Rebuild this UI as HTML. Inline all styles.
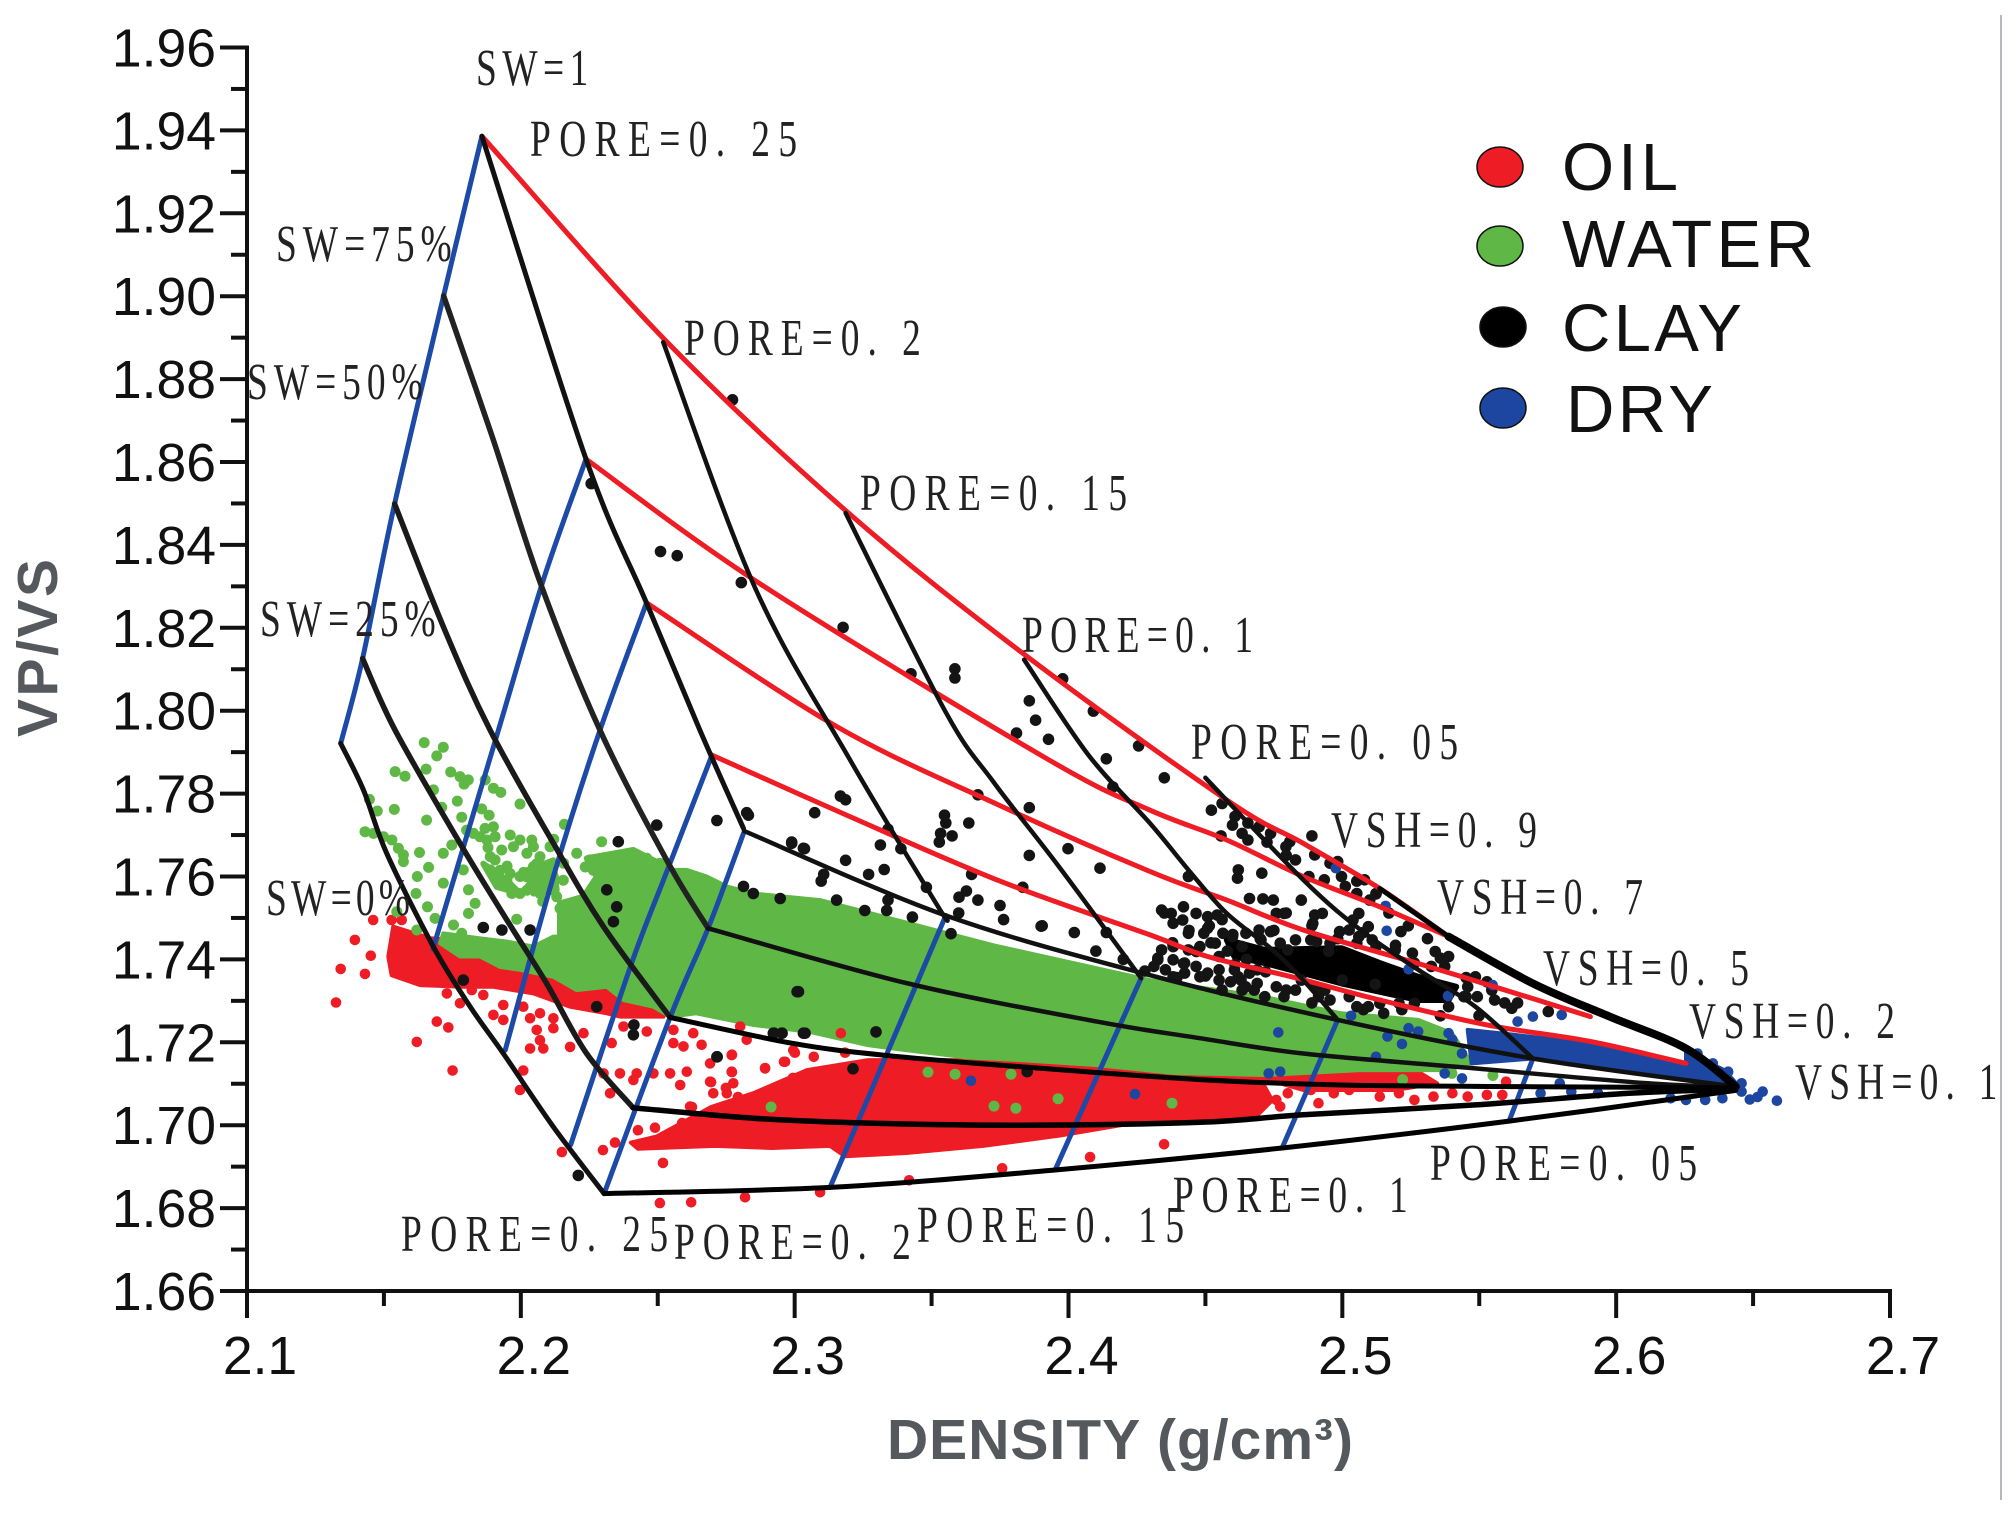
<!DOCTYPE html>
<html lang="en">
<head>
<meta charset="utf-8">
<title>VP/VS vs Density rock-physics template</title>
<style>
html,body{margin:0;padding:0;background:#fff;width:2016px;height:1521px;overflow:hidden}
svg{display:block}
.tick{font-family:"Liberation Sans",Arial,sans-serif;font-size:53.5px;fill:#111}
.lab{font-family:"Liberation Serif","Noto Serif CJK SC",serif;font-size:52px;fill:#222}
.leg{font-family:"Liberation Sans",Arial,sans-serif;font-size:67px;fill:#111}
.axt{font-family:"Liberation Sans",Arial,sans-serif;font-weight:bold;fill:#55585c}
</style>
</head>
<body>
<svg id="chart" xmlns="http://www.w3.org/2000/svg" width="2016" height="1521" viewBox="0 0 2016 1521">
  <rect width="2016" height="1521" fill="#fff"/>
  <line x1="2001" y1="15" x2="2001" y2="1500" stroke="#9aa0a6" stroke-width="1.5"/>
  <g id="bands"></g>
  <g id="points"></g>
  <g id="lines"></g>
  <g id="axes"></g>

  <text class="axt" font-size="57" transform="translate(57,737) rotate(-90)" textLength="178">VP/VS</text>
  <text class="axt" font-size="57" x="887" y="1459" textLength="466">DENSITY (g/cm³)</text>

  <g>
    <text class="lab" transform="translate(476,85) scale(.72,1)" textLength="156">SW=1</text>
    <text class="lab" transform="translate(530,156) scale(.72,1)" textLength="371">PORE=0. 25</text>
    <text class="lab" transform="translate(276,261) scale(.72,1)" textLength="244">SW=75%</text>
    <text class="lab" transform="translate(684,355) scale(.72,1)" textLength="329">PORE=0. 2</text>
    <text class="lab" transform="translate(247,399) scale(.72,1)" textLength="244">SW=50%</text>
    <text class="lab" transform="translate(860,510) scale(.72,1)" textLength="371">PORE=0. 15</text>
    <text class="lab" transform="translate(1022,652) scale(.72,1)" textLength="321">PORE=0. 1</text>
    <text class="lab" transform="translate(260,636) scale(.72,1)" textLength="244">SW=25%</text>
    <text class="lab" transform="translate(1191,759) scale(.72,1)" textLength="371">PORE=0. 05</text>
    <text class="lab" transform="translate(1331,847) scale(.72,1)" textLength="286">VSH=0. 9</text>
    <text class="lab" transform="translate(1437,914) scale(.72,1)" textLength="286">VSH=0. 7</text>
    <text class="lab" transform="translate(1543,985) scale(.72,1)" textLength="286">VSH=0. 5</text>
    <text class="lab" transform="translate(1689,1038) scale(.72,1)" textLength="286">VSH=0. 2</text>
    <text class="lab" transform="translate(1795,1099) scale(.72,1)" textLength="281">VSH=0. 1</text>
    <text class="lab" transform="translate(266,915) scale(.72,1)" textLength="200">SW=0%</text>
    <text class="lab" transform="translate(401,1251) scale(.72,1)" textLength="371">PORE=0. 25</text>
    <text class="lab" transform="translate(674,1259) scale(.72,1)" textLength="329">PORE=0. 2</text>
    <text class="lab" transform="translate(917,1242) scale(.72,1)" textLength="371">PORE=0. 15</text>
    <text class="lab" transform="translate(1173,1212) scale(.72,1)" textLength="326">PORE=0. 1</text>
    <text class="lab" transform="translate(1430,1180) scale(.72,1)" textLength="371">PORE=0. 05</text>
  </g>

  <g>
    <g>
      <ellipse cx="1500" cy="167" rx="23" ry="20" fill="#ee1c25" stroke="#111" stroke-width="1.5"/>
      <text class="leg" x="1562" y="190" textLength="116">OIL</text>
    </g>
    <g>
      <ellipse cx="1500" cy="246" rx="23" ry="20" fill="#5fb846" stroke="#111" stroke-width="1.5"/>
      <text class="leg" x="1562" y="267" textLength="252">WATER</text>
    </g>
    <g>
      <ellipse cx="1503" cy="327" rx="23" ry="20" fill="#000" stroke="#111" stroke-width="1.5"/>
      <text class="leg" x="1562" y="351" textLength="180">CLAY</text>
    </g>
    <g>
      <ellipse cx="1503" cy="408" rx="23" ry="20" fill="#1c46a0" stroke="#111" stroke-width="1.5"/>
      <text class="leg" x="1566" y="432" textLength="147">DRY</text>
    </g>
  </g>
</svg>

<script>
// ---- tick data ----
const xMajorTicks = [2.1,2.2,2.3,2.4,2.5,2.6,2.7];
const xMinorTicks = [2.15,2.25,2.35,2.45,2.55,2.65];
const yMajorTicks = [1.66,1.68,1.70,1.72,1.74,1.76,1.78,1.80,1.82,1.84,1.86,1.88,1.90,1.92,1.94,1.96];
const yMinorTicks = [1.67,1.69,1.71,1.73,1.75,1.77,1.79,1.81,1.83,1.85,1.87,1.89,1.91,1.93,1.95];

// ---- red iso-lines (density, vp/vs) ----
const redLine1 = [[2.1858,1.9386],[2.2520,1.8899],[2.3186,1.8483],[2.3838,1.8136],[2.4577,1.7785],[2.4857,1.7680],[2.5137,1.7571],[2.5388,1.7455]];
const redLine2 = [[2.2238,1.8607],[2.2881,1.8303],[2.3929,1.7881],[2.4298,1.7760],[2.4578,1.7688],[2.4857,1.7600],[2.5137,1.7527],[2.5388,1.7455]];
const redLine3 = [[2.2459,1.8260],[2.3153,1.7962],[2.3750,1.7771],[2.4298,1.7612],[2.4578,1.7543],[2.4857,1.7471],[2.5277,1.7390],[2.5556,1.7334],[2.5906,1.7262]];
const redLine4 = [[2.2698,1.7893],[2.3200,1.7745],[2.3750,1.7589],[2.4298,1.7459],[2.4508,1.7407],[2.4815,1.7358],[2.5137,1.7302],[2.5528,1.7242],[2.5906,1.7202],[2.6255,1.7149]];

// ---- black saturation curves ----
const sw100Down = [[2.1858,1.9386],[2.2238,1.8607],[2.2459,1.8260],[2.2654,1.7953],[2.2813,1.7716]];
const sw75Down = [[2.1718,1.9001],[2.1896,1.8660],[2.2074,1.8303],[2.2289,1.7953],[2.2533,1.7639],[2.2684,1.7475]];
const sw50Down = [[2.1539,1.8499],[2.1722,1.8195],[2.1888,1.7953],[2.2119,1.7680],[2.2302,1.7479],[2.2545,1.7260]];
const sw25Down = [[2.1422,1.8126],[2.1541,1.7953],[2.1778,1.7680],[2.1949,1.7495],[2.2094,1.7342],[2.2240,1.7173],[2.2410,1.7042]];
const sw0Down = [[2.1342,1.7921],[2.1425,1.7809],[2.1510,1.7656],[2.1681,1.7430],[2.1815,1.7286],[2.1936,1.7173],[2.2119,1.6996],[2.2304,1.6835]];
const sw100Across = [[2.2815,1.7710],[2.3552,1.7506],[2.4298,1.7362],[2.4983,1.7254],[2.5696,1.7161],[2.6437,1.7093]];
const sw75Across = [[2.2684,1.7475],[2.3407,1.7343],[2.4104,1.7250],[2.4480,1.7210],[2.4857,1.7173],[2.5416,1.7141],[2.6115,1.7101],[2.6437,1.7093]];
const sw50Across = [[2.2545,1.7260],[2.2987,1.7198],[2.3323,1.7169],[2.3827,1.7141],[2.4480,1.7110],[2.4997,1.7097],[2.5696,1.7093],[2.6437,1.7090]];
const sw25Across = [[2.2410,1.7042],[2.2848,1.7017],[2.3268,1.7005],[2.3827,1.7000],[2.4480,1.7007],[2.4857,1.7025],[2.5486,1.7049],[2.6046,1.7077],[2.6437,1.7087]];
const sw0Across = [[2.2304,1.6835],[2.3129,1.6850],[2.3951,1.6892],[2.4780,1.6945],[2.5609,1.7010],[2.6437,1.7084]];

// ---- black porosity curves ----
const pore20Curve = [[2.2520,1.8889],[2.2853,1.8300],[2.3200,1.7884],[2.3524,1.7527],[2.3552,1.7506]];
const pore15Curve = [[2.3186,1.8477],[2.3547,1.8002],[2.3726,1.7828],[2.3965,1.7624],[2.4265,1.7355]];
const pore10Curve = [[2.3838,1.8123],[2.4073,1.7893],[2.4298,1.7728],[2.4438,1.7616],[2.4578,1.7511],[2.4745,1.7423],[2.4857,1.7350],[2.4983,1.7254]];
const pore05Curve = [[2.4500,1.7838],[2.4857,1.7592],[2.5067,1.7471],[2.5277,1.7375],[2.5486,1.7286],[2.5696,1.7161]];
const clayEnvelopeThin = [[2.5137,1.7571],[2.5388,1.7455]];
const clayEnvelope = [[2.5388,1.7455],[2.5696,1.7342],[2.5976,1.7262],[2.6255,1.7185],[2.6437,1.7093]];

// ---- blue lines ----
const blueLine1 = [[2.1342,1.7921],[2.1422,1.8126],[2.1539,1.8499],[2.1718,1.9001],[2.1858,1.9386]];
const blueLine2 = [[2.1679,1.7425],[2.1918,1.7953],[2.2084,1.8319],[2.2238,1.8607]];
const blueLine3 = [[2.1943,1.7181],[2.2121,1.7605],[2.2289,1.7953],[2.2459,1.8260]];
const blueLine4 = [[2.2182,1.6953],[2.2403,1.7388],[2.2529,1.7605],[2.2698,1.7893]];
const blueLine5 = [[2.2304,1.6835],[2.2545,1.7260],[2.2684,1.7475],[2.2813,1.7704]];
const blueLine6 = [[2.3129,1.6850],[2.3552,1.7506]];
const blueLine7 = [[2.3951,1.6892],[2.4265,1.7355]];
const blueLine8 = [[2.4780,1.6945],[2.4983,1.7254]];
const blueLine9 = [[2.5609,1.7010],[2.5696,1.7161]];

// ---- outlines of saturated point clouds ----
const oilBandMain = [[2.2695,1.7044],[2.2848,1.7077],[2.3045,1.7133],[2.3268,1.7157],[2.3688,1.7157],[2.4298,1.7141],[2.4689,1.7126],[2.4744,1.7060],[2.4689,1.7024],[2.4298,1.7012],[2.3966,1.6975],[2.3688,1.6950],[2.3407,1.6933],[2.3184,1.6925],[2.3129,1.6950],[2.2917,1.6945],[2.2709,1.6950],[2.2428,1.6943],[2.2402,1.6958],[2.2497,1.6973]];
const oilBandRight = [[2.4689,1.7117],[2.4857,1.7129],[2.5109,1.7141],[2.5277,1.7129],[2.5346,1.7101],[2.5193,1.7085],[2.4857,1.7085]];
const oilBandLeft = [[2.1534,1.7479],[2.1669,1.7451],[2.1912,1.7439],[2.2192,1.7374],[2.2350,1.7334],[2.2533,1.7286],[2.2521,1.7262],[2.2362,1.7262],[2.2314,1.7270],[2.2180,1.7286],[2.2046,1.7318],[2.1900,1.7334],[2.1790,1.7334],[2.1632,1.7338],[2.1528,1.7362],[2.1516,1.7407]];
const waterBand = [[2.1717,1.7463],[2.1851,1.7451],[2.1949,1.7443],[2.2046,1.7431],[2.2119,1.7455],[2.2241,1.7455],[2.2326,1.7451],[2.2423,1.7487],[2.2496,1.7567],[2.2533,1.7616],[2.2606,1.7616],[2.2679,1.7600],[2.2752,1.7576],[2.2849,1.7559],[2.3093,1.7543],[2.3726,1.7434],[2.4298,1.7350],[2.4718,1.7309],[2.4996,1.7270],[2.5277,1.7254],[2.5401,1.7222],[2.5470,1.7150],[2.5386,1.7133],[2.5065,1.7133],[2.4718,1.7121],[2.4386,1.7126],[2.4104,1.7145],[2.3827,1.7157],[2.3619,1.7164],[2.3407,1.7181],[2.3268,1.7193],[2.3056,1.7225],[2.2848,1.7242],[2.2640,1.7270],[2.2545,1.7262],[2.2484,1.7286],[2.2375,1.7302],[2.2314,1.7334],[2.2204,1.7326],[2.2119,1.7358],[2.1997,1.7375],[2.1924,1.7382],[2.1851,1.7407],[2.1778,1.7407],[2.1705,1.7439]];
const waterBandUpper = [[2.2241,1.7644],[2.2411,1.7664],[2.2533,1.7623],[2.2484,1.7551],[2.2423,1.7487],[2.2362,1.7455],[2.2143,1.7455],[2.2143,1.7535],[2.2229,1.7551],[2.2277,1.7599]];
const waterPatchRing = [[2.2022,1.7615],[2.2119,1.7639],[2.2131,1.7567],[2.2046,1.7559]];
const waterPatchWest = [[2.1863,1.7631],[2.1949,1.7591],[2.1997,1.7559],[2.1912,1.7575]];
const clayBlob = [[2.4578,1.7447],[2.4717,1.7423],[2.4997,1.7427],[2.5137,1.7391],[2.5277,1.7358],[2.5416,1.7334],[2.5388,1.7302],[2.5277,1.7302],[2.5165,1.7318],[2.4997,1.7342],[2.4857,1.7367],[2.4717,1.7391],[2.4606,1.7407]];
const dryBand = [[2.5458,1.7230],[2.5626,1.7218],[2.5836,1.7202],[2.6046,1.7177],[2.6255,1.7149],[2.6255,1.7177],[2.6395,1.7133],[2.6444,1.7097],[2.6367,1.7105],[2.6185,1.7121],[2.5976,1.7141],[2.5696,1.7161],[2.5472,1.7149]];

// ---- individually visible points ----
const oilPoints = [[2.1461,1.7495],[2.1528,1.7495],[2.1565,1.7495],[2.1394,1.7447],[2.1452,1.7409],[2.1342,1.7377],[2.1431,1.7365],[2.1325,1.7296],[2.1693,1.7250],[2.1735,1.7236],[2.1620,1.7201],[2.1751,1.7132],[2.2009,1.7132],[2.1997,1.7085],[2.1730,1.7318],[2.1778,1.7294],[2.1863,1.7314],[2.1821,1.7326],[2.1936,1.7290],[2.1900,1.7266],[2.1936,1.7254],[2.2009,1.7286],[2.2034,1.7258],[2.2070,1.7270],[2.2119,1.7258],[2.2119,1.7234],[2.2058,1.7230],[2.2070,1.7205],[2.2034,1.7185],[2.2082,1.7185],[2.2180,1.7189],[2.2229,1.7222],[2.2332,1.7198],[2.2375,1.7238],[2.2460,1.7226],[2.2302,1.7125],[2.2362,1.7125],[2.2423,1.7125],[2.2484,1.7125],[2.2545,1.7125],[2.2606,1.7129],[2.2582,1.7097],[2.2411,1.7109],[2.2326,1.7077],[2.2557,1.7230],[2.2557,1.7198],[2.2594,1.7190],[2.2630,1.7222],[2.2660,1.7194],[2.2691,1.7149],[2.2770,1.7169],[2.2770,1.7129],[2.2691,1.7105],[2.2703,1.7077],[2.2776,1.7101],[2.2752,1.7077],[2.2892,1.7137],[2.2965,1.7153],[2.2825,1.7206],[2.2801,1.7238],[2.2995,1.7181],[2.2995,1.7113],[2.2618,1.7045],[2.4759,1.7061],[2.4801,1.7077],[2.4773,1.7045],[2.4885,1.7085],[2.4913,1.7053],[2.4969,1.7077],[2.5025,1.7085],[2.5081,1.7093],[2.5137,1.7069],[2.5207,1.7077],[2.5263,1.7061],[2.5333,1.7069],[2.5402,1.7077],[2.5458,1.7069],[2.5528,1.7073],[2.5598,1.7105],[2.5584,1.7073],[2.2519,1.6909],[2.2508,1.6812],[2.2622,1.6814],[2.2819,1.6826],[2.3093,1.6838],[2.3418,1.6867],[2.3758,1.6896],[2.4079,1.6923],[2.4349,1.6954],[2.2428,1.6988],[2.2490,1.6994],[2.2589,1.7005],[2.2344,1.6958],[2.2892,1.7138],[2.2961,1.7153],[2.2994,1.7114],[2.2771,1.7170],[2.2771,1.7128],[2.2695,1.7104],[2.2749,1.7090],[2.2793,1.7068],[2.2625,1.7044],[2.3001,1.7175],[2.3070,1.7165],[2.3184,1.7175],[2.3169,1.7222],[2.2300,1.6940],[2.2150,1.6935]];
const waterPoints = [[2.1647,1.7923],[2.1717,1.7912],[2.1693,1.7891],[2.1541,1.7853],[2.1577,1.7842],[2.1654,1.7859],[2.1744,1.7852],[2.1778,1.7841],[2.1808,1.7833],[2.1793,1.7823],[2.1870,1.7833],[2.1900,1.7813],[2.1927,1.7803],[2.1681,1.7809],[2.1447,1.7786],[2.1476,1.7758],[2.1538,1.7762],[2.1656,1.7736],[2.1768,1.7782],[2.1711,1.7767],[2.1857,1.7763],[2.1884,1.7748],[2.1784,1.7743],[2.1997,1.7775],[2.2159,1.7726],[2.1431,1.7708],[2.1462,1.7704],[2.1498,1.7696],[2.1529,1.7688],[2.1553,1.7668],[2.1571,1.7652],[2.1571,1.7636],[2.1630,1.7658],[2.1663,1.7622],[2.1622,1.7600],[2.1617,1.7559],[2.1659,1.7527],[2.1687,1.7499],[2.1620,1.7471],[2.1547,1.7515],[2.1717,1.7656],[2.1748,1.7676],[2.1802,1.7712],[2.1851,1.7696],[2.1869,1.7716],[2.1906,1.7696],[2.1961,1.7700],[2.1997,1.7688],[2.2040,1.7688],[2.1790,1.7616],[2.1717,1.7584],[2.1809,1.7568],[2.1833,1.7535],[2.1809,1.7511],[2.1985,1.7497],[2.1754,1.7483],[2.1784,1.7463],[2.1906,1.7640],[2.1888,1.7616],[2.1912,1.7592],[2.1949,1.7575],[2.1997,1.7600],[2.2046,1.7624],[2.2022,1.7656],[2.1973,1.7672],[2.1930,1.7664],[2.2070,1.7648],[2.2095,1.7616],[2.2083,1.7584],[2.2034,1.7575],[2.1997,1.7559],[2.1967,1.7559],[2.2058,1.7600],[2.2131,1.7551],[2.2167,1.7527],[2.2204,1.7656],[2.2156,1.7632],[2.2253,1.7640],[2.2277,1.7620],[2.2295,1.7684],[2.2302,1.7632],[2.2362,1.7644],[2.2411,1.7656],[2.2460,1.7644],[2.2508,1.7632],[2.2374,1.7608],[2.2435,1.7600],[2.2472,1.7592],[2.2302,1.7568],[2.2411,1.7559],[2.2435,1.7527],[2.2143,1.7523],[2.2155,1.7495],[2.2229,1.7503],[2.2326,1.7515],[2.2387,1.7483],[2.2435,1.7495],[2.2167,1.7479],[2.1950,1.7625],[2.1880,1.7670],[2.2010,1.7610],[2.2120,1.7690],[2.2080,1.7540],[2.2380,1.7580],[2.1888,1.7648],[2.1924,1.7615],[2.1961,1.7607],[2.2022,1.7599],[2.2058,1.7631],[2.2082,1.7599],[2.2119,1.7599],[2.2022,1.7567],[2.2070,1.7559],[2.1949,1.7591],[2.2119,1.7567],[2.2107,1.7672],[2.2046,1.7672],[2.1876,1.7688],[2.1827,1.7704],[2.1900,1.7720],[2.2155,1.7591],[2.2180,1.7535],[2.2216,1.7527],[2.2204,1.7479],[2.2241,1.7495],[2.2277,1.7479],[2.2289,1.7503],[2.2314,1.7535],[2.2387,1.7575],[2.2423,1.7575],[2.2399,1.7535],[2.2362,1.7503],[2.2374,1.7471],[2.2435,1.7551],[2.2472,1.7567],[2.2484,1.7615],[2.2520,1.7599],[2.2508,1.7559],[2.2326,1.7639],[2.2338,1.7615],[2.2265,1.7615],[2.2235,1.7623],[2.2435,1.7631],[2.2399,1.7623],[2.2466,1.7623],[2.3487,1.7128],[2.3586,1.7123],[2.3790,1.7123],[2.3962,1.7064],[2.3728,1.7046],[2.3808,1.7041],[2.4378,1.7053],[2.2914,1.7044],[2.5220,1.7110],[2.5400,1.7125],[2.5550,1.7120]];
const clayPoints = [[2.2773,1.8750],[2.2257,1.8548],[2.2510,1.8384],[2.2571,1.8374],[2.2805,1.8309],[2.3177,1.8201],[2.3425,1.8089],[2.3585,1.8101],[2.3585,1.8079],[2.3979,1.8077],[2.3857,1.8024],[2.3880,1.7977],[2.4091,1.7999],[2.3927,1.7931],[2.3810,1.7946],[2.4138,1.7884],[2.4256,1.7915],[2.4162,1.7816],[2.4350,1.7838],[2.3857,1.7766],[2.3669,1.7797],[2.3186,1.7785],[2.2989,1.7683],[2.3036,1.7667],[2.2825,1.7754],[2.3341,1.7714],[2.3552,1.7729],[2.3575,1.7698],[2.3528,1.7683],[2.3857,1.7651],[2.3646,1.7605],[2.3669,1.7543],[2.3833,1.7574],[2.3998,1.7667],[2.4115,1.7620],[2.3388,1.7667],[2.3270,1.7605],[2.3106,1.7605],[2.3153,1.7543],[2.3341,1.7543],[2.3481,1.7574],[2.3599,1.7512],[2.3763,1.7496],[2.3904,1.7481],[2.4021,1.7465],[2.4138,1.7465],[2.4350,1.7512],[2.4420,1.7527],[2.4514,1.7481],[2.4561,1.7496],[2.4326,1.7403],[2.4467,1.7419],[2.4608,1.7388],[2.4279,1.7372],[2.4396,1.7356],[2.4561,1.7326],[2.4678,1.7326],[2.4795,1.7326],[2.4889,1.7295],[2.4936,1.7326],[2.5077,1.7279],[2.5217,1.7279],[2.5358,1.7264],[2.5499,1.7264],[2.5452,1.7310],[2.5593,1.7295],[2.4561,1.7776],[2.4608,1.7745],[2.4655,1.7729],[2.4725,1.7683],[2.4795,1.7651],[2.4889,1.7698],[2.4983,1.7636],[2.5053,1.7589],[2.5123,1.7558],[2.5170,1.7512],[2.5241,1.7481],[2.5311,1.7450],[2.4795,1.7512],[2.4889,1.7481],[2.4983,1.7450],[2.5077,1.7465],[2.4748,1.7543],[2.5100,1.7543],[2.5194,1.7434],[2.5358,1.7403],[2.5452,1.7356],[2.5546,1.7326],[2.5640,1.7295],[2.4520,1.7440],[2.4600,1.7460],[2.4650,1.7400],[2.4580,1.7420],[2.4630,1.7350],[2.4700,1.7450],[2.4750,1.7470],[2.4720,1.7370],[2.4850,1.7350],[2.4950,1.7420],[2.5000,1.7350],[2.5120,1.7340],[2.4500,1.7360],[2.4420,1.7390],[2.4380,1.7440],[2.4440,1.7470],[2.4200,1.7400],[2.4100,1.7420],[2.3900,1.7480],[2.3750,1.7530],[2.3600,1.7550],[2.3097,1.7589],[2.3073,1.7754],[2.3167,1.7794],[2.3313,1.7676],[2.3327,1.7617],[2.3186,1.7639],[2.3256,1.7518],[2.3336,1.7518],[2.3430,1.7502],[2.3547,1.7748],[2.3533,1.7704],[2.3636,1.7729],[2.3627,1.7565],[2.3571,1.7462],[2.1863,1.7477],[2.1931,1.7471],[2.2034,1.7471],[2.1790,1.7350],[2.2277,1.7286],[2.2411,1.7218],[2.2716,1.7165],[2.2356,1.7684],[2.2496,1.7724],[2.2716,1.7735],[2.2831,1.7748],[2.2989,1.7680],[2.3032,1.7668],[2.2314,1.7568],[2.2350,1.7527],[2.2338,1.7491],[2.2813,1.7576],[2.2849,1.7559],[2.2947,1.7547],[2.3014,1.7322],[2.2922,1.7222],[2.2953,1.7222],[2.3032,1.7222],[2.2413,1.7242],[2.2717,1.7165],[2.3213,1.7136],[2.3297,1.7225],[2.3038,1.7222],[2.2925,1.7222],[2.2954,1.7222],[2.3849,1.7129],[2.3009,1.7322],[2.2210,1.6879],[2.4340,1.7519],[2.4375,1.7511],[2.4417,1.7495],[2.4466,1.7511],[2.4543,1.7507],[2.4508,1.7475],[2.4564,1.7463],[2.4599,1.7455],[2.4648,1.7463],[2.4696,1.7471],[2.4738,1.7467],[2.4787,1.7511],[2.4899,1.7507],[2.4927,1.7511],[2.4892,1.7487],[2.4829,1.7447],[2.4906,1.7443],[2.4990,1.7467],[2.5025,1.7471],[2.5060,1.7511],[2.5060,1.7455],[2.5109,1.7447],[2.5214,1.7467],[2.5256,1.7415],[2.5339,1.7419],[2.5388,1.7407],[2.5325,1.7383],[2.5374,1.7383],[2.5486,1.7358],[2.5528,1.7346],[2.5493,1.7310],[2.5556,1.7302],[2.5619,1.7282],[2.5752,1.7274],[2.4326,1.7399],[2.4382,1.7399],[2.4424,1.7391],[2.4466,1.7383],[2.4508,1.7367],[2.4550,1.7375],[2.4382,1.7358],[2.4592,1.7346],[2.4634,1.7326],[2.4689,1.7342],[2.4717,1.7310],[2.4787,1.7310],[2.4913,1.7310],[2.5025,1.7310],[2.5095,1.7286],[2.5151,1.7270],[2.5207,1.7294],[2.4438,1.7600],[2.4620,1.7616],[2.4617,1.7596],[2.4706,1.7608],[2.4661,1.7547],[2.4710,1.7546],[2.4850,1.7543],[2.4522,1.7760],[2.4599,1.7724],[2.4634,1.7704],[2.4557,1.7698],[2.4655,1.7688],[2.4696,1.7720],[2.4738,1.7704],[2.4808,1.7684],[2.4829,1.7640],[2.4794,1.7672],[2.4899,1.7652],[2.4955,1.7632],[2.4878,1.7600],[2.4934,1.7592],[2.5011,1.7576],[2.5053,1.7559],[2.4997,1.7600],[2.5081,1.7592],[2.5123,1.7559],[2.4494,1.7463],[2.4536,1.7439],[2.4480,1.7431],[2.4438,1.7423],[2.4382,1.7431],[2.4340,1.7423],[2.4312,1.7383],[2.4354,1.7375],[2.4424,1.7367],[2.4480,1.7358],[2.4550,1.7350],[2.4620,1.7358],[2.4661,1.7367],[2.4689,1.7375],[2.4634,1.7431],[2.4703,1.7447],[2.4773,1.7439],[2.4801,1.7423],[2.4885,1.7447],[2.4955,1.7439],[2.5053,1.7439],[2.5123,1.7431],[2.5193,1.7423],[2.5263,1.7391],[2.5458,1.7334],[2.5444,1.7310],[2.5388,1.7286],[2.5263,1.7294],[2.5137,1.7294],[2.5053,1.7286],[2.4955,1.7302],[2.4899,1.7334],[2.4829,1.7326],[2.4759,1.7334],[2.4647,1.7334],[2.4606,1.7375],[2.4550,1.7407],[2.4759,1.7511],[2.4508,1.7503],[2.4382,1.7487],[2.4438,1.7463],[2.5039,1.7495],[2.5095,1.7479]];
const dryPoints = [[2.4976,1.7620],[2.5158,1.7529],[2.5162,1.7469],[2.5242,1.7376],[2.5386,1.7312],[2.5549,1.7338],[2.5640,1.7250],[2.5696,1.7262],[2.5801,1.7266],[2.5032,1.7264],[2.4766,1.7224],[2.5165,1.7214],[2.5218,1.7196],[2.5277,1.7226],[2.5242,1.7234],[2.5123,1.7165],[2.4731,1.7125],[2.4773,1.7129],[2.5437,1.7173],[2.5388,1.7222],[2.5402,1.7206],[2.5374,1.7125],[2.5437,1.7113],[2.5724,1.7077],[2.5794,1.7101],[2.5836,1.7081],[2.5934,1.7077],[2.6004,1.7141],[2.6046,1.7141],[2.6227,1.7129],[2.6269,1.7125],[2.6199,1.7065],[2.6255,1.7061],[2.6325,1.7061],[2.6388,1.7065],[2.6297,1.7173],[2.6353,1.7149],[2.6409,1.7129],[2.6458,1.7101],[2.6458,1.7081],[2.6488,1.7062],[2.6587,1.7059],[2.6535,1.7081],[2.6516,1.7068],[2.3644,1.7107],[2.4243,1.7075]];

// ---- axis functions ----
function xScale(d){ return 247 + (d - 2.1) * (1890 - 247) / 0.6; }
function yScale(v){ return 47.5 + (1.96 - v) * (1291 - 47.5) / 0.30; }

const NS = 'http://www.w3.org/2000/svg';
const axesLayer = document.getElementById('axes');
const linesLayer = document.getElementById('lines');
const bandsLayer = document.getElementById('bands');
const pointsLayer = document.getElementById('points');

function smoothPath(pts){
  const p = pts.map(function(q){ return [xScale(q[0]), yScale(q[1])]; });
  let s = 'M' + p[0][0].toFixed(1) + ' ' + p[0][1].toFixed(1);
  for (let i = 0; i < p.length - 1; i++){
    const a = p[Math.max(i - 1, 0)], b = p[i], c = p[i + 1], e = p[Math.min(i + 2, p.length - 1)];
    const c1x = b[0] + (c[0] - a[0]) / 6, c1y = b[1] + (c[1] - a[1]) / 6;
    const c2x = c[0] - (e[0] - b[0]) / 6, c2y = c[1] - (e[1] - b[1]) / 6;
    s += 'C' + c1x.toFixed(1) + ' ' + c1y.toFixed(1) + ' ' + c2x.toFixed(1) + ' ' + c2y.toFixed(1) + ' ' + c[0].toFixed(1) + ' ' + c[1].toFixed(1);
  }
  return s;
}

function drawCurve(pts, name, color, width){
  const el = document.createElementNS(NS, 'path');
  el.setAttribute('d', smoothPath(pts));
  el.setAttribute('fill', 'none');
  el.setAttribute('stroke', color);
  el.setAttribute('stroke-width', width);
  el.setAttribute('stroke-linecap', 'round');
  el.setAttribute('stroke-linejoin', 'round');
  
  
  linesLayer.appendChild(el);
}

function drawBand(pts, name, color, edge){
  const el = document.createElementNS(NS, 'polygon');
  el.setAttribute('points', pts.map(function(q){ return xScale(q[0]).toFixed(1) + ',' + yScale(q[1]).toFixed(1); }).join(' '));
  el.setAttribute('fill', color);
  el.setAttribute('stroke', color);
  el.setAttribute('stroke-width', edge);
  el.setAttribute('stroke-linejoin', 'round');
  
  
  bandsLayer.appendChild(el);
}

function drawPoints(pts, name, color, r){
  pts.forEach(function(q){
    const el = document.createElementNS(NS, 'circle');
    el.setAttribute('cx', xScale(q[0]).toFixed(1));
    el.setAttribute('cy', yScale(q[1]).toFixed(1));
    el.setAttribute('r', r);
    el.setAttribute('fill', color);
    
    
    pointsLayer.appendChild(el);
  });
}

function drawTick(x1, y1, x2, y2, name){
  const el = document.createElementNS(NS, 'line');
  el.setAttribute('x1', x1);
  el.setAttribute('y1', y1);
  el.setAttribute('x2', x2);
  el.setAttribute('y2', y2);
  el.setAttribute('stroke', '#111');
  el.setAttribute('stroke-width', 4);
  
  
  axesLayer.appendChild(el);
}

function drawTickLabel(x, y, anchor, str, name){
  const el = document.createElementNS(NS, 'text');
  el.setAttribute('x', x);
  el.setAttribute('y', y);
  el.setAttribute('text-anchor', anchor);
  el.setAttribute('class', 'tick');
  
  
  el.textContent = str;
  axesLayer.appendChild(el);
}

// bands and point clouds
drawBand(oilBandLeft, 'oil-band-left', '#ee1c25', 4);
drawBand(oilBandMain, 'oil-band-main', '#ee1c25', 4);
drawBand(oilBandRight, 'oil-band-right', '#ee1c25', 4);
drawPoints(oilPoints, 'oil-point', '#ee1c25', 5.3);
drawBand(waterBand, 'water-band', '#5fb846', 4);
drawBand(waterBandUpper, 'water-band-upper', '#5fb846', 6);
drawBand(waterPatchRing, 'water-patch-ring', '#5fb846', 6);
drawBand(waterPatchWest, 'water-patch-west', '#5fb846', 6);
drawPoints(waterPoints, 'water-point', '#5fb846', 5.5);
drawBand(clayBlob, 'clay-dense-cluster', '#000', 6);
drawPoints(clayPoints, 'clay-point', '#141414', 5.8);
drawBand(dryBand, 'dry-band', '#1c46a0', 4);
drawPoints(dryPoints, 'dry-point', '#1c46a0', 5.3);

// template lines
[blueLine1, blueLine2, blueLine3, blueLine4, blueLine5, blueLine6, blueLine7, blueLine8, blueLine9].forEach(function(l, i){
  drawCurve(l, 'blue-line-' + (i + 1), '#1c4aa6', 5);
});
[redLine1, redLine2, redLine3, redLine4].forEach(function(l, i){
  drawCurve(l, 'red-line-' + (i + 1), '#ee1c25', 5);
});
drawCurve(sw100Down, 'sw100-down-curve', '#111', 5);
drawCurve(sw75Down, 'sw75-down-curve', '#222', 5.5);
drawCurve(sw50Down, 'sw50-down-curve', '#1a1a1a', 5.5);
drawCurve(sw25Down, 'sw25-down-curve', '#1a1a1a', 5.5);
drawCurve(sw0Down, 'sw0-down-curve', '#111', 5);
drawCurve(sw100Across, 'sw100-across-curve', '#111', 4.5);
drawCurve(sw75Across, 'sw75-across-curve', '#111', 4.5);
drawCurve(sw50Across, 'sw50-across-curve', '#000', 5);
drawCurve(sw25Across, 'sw25-across-curve', '#000', 5.5);
drawCurve(sw0Across, 'sw0-across-curve', '#000', 5);
drawCurve(pore20Curve, 'pore-020-curve', '#111', 4.5);
drawCurve(pore15Curve, 'pore-015-curve', '#111', 4.5);
drawCurve(pore10Curve, 'pore-010-curve', '#111', 4.5);
drawCurve(pore05Curve, 'pore-005-curve', '#111', 4.5);
drawCurve(clayEnvelopeThin, 'clay-envelope-thin-line', '#000', 5);
drawCurve(clayEnvelope, 'clay-envelope-thick-line', '#000', 8);

// axes
drawTick(xScale(2.1), yScale(1.96) - 2, xScale(2.1), yScale(1.66) + 2, 'y-axis-line');
drawTick(xScale(2.1) - 2, yScale(1.66), xScale(2.7) + 2, yScale(1.66), 'x-axis-line');
yMajorTicks.forEach(function(v){
  drawTick(xScale(2.1) - 27, yScale(v), xScale(2.1), yScale(v), 'y-major-tick');
  drawTickLabel(216, yScale(v) + 19, 'end', v.toFixed(2), 'y-tick-label');
});
yMinorTicks.forEach(function(v){
  drawTick(xScale(2.1) - 16, yScale(v), xScale(2.1), yScale(v), 'y-minor-tick');
});
xMajorTicks.forEach(function(d){
  drawTick(xScale(d), yScale(1.66), xScale(d), yScale(1.66) + 27, 'x-major-tick');
  drawTickLabel(xScale(d) + 13, 1374, 'middle', d.toFixed(1), 'x-tick-label');
});
xMinorTicks.forEach(function(d){
  drawTick(xScale(d), yScale(1.66), xScale(d), yScale(1.66) + 15, 'x-minor-tick');
});
</script>
</body>
</html>
